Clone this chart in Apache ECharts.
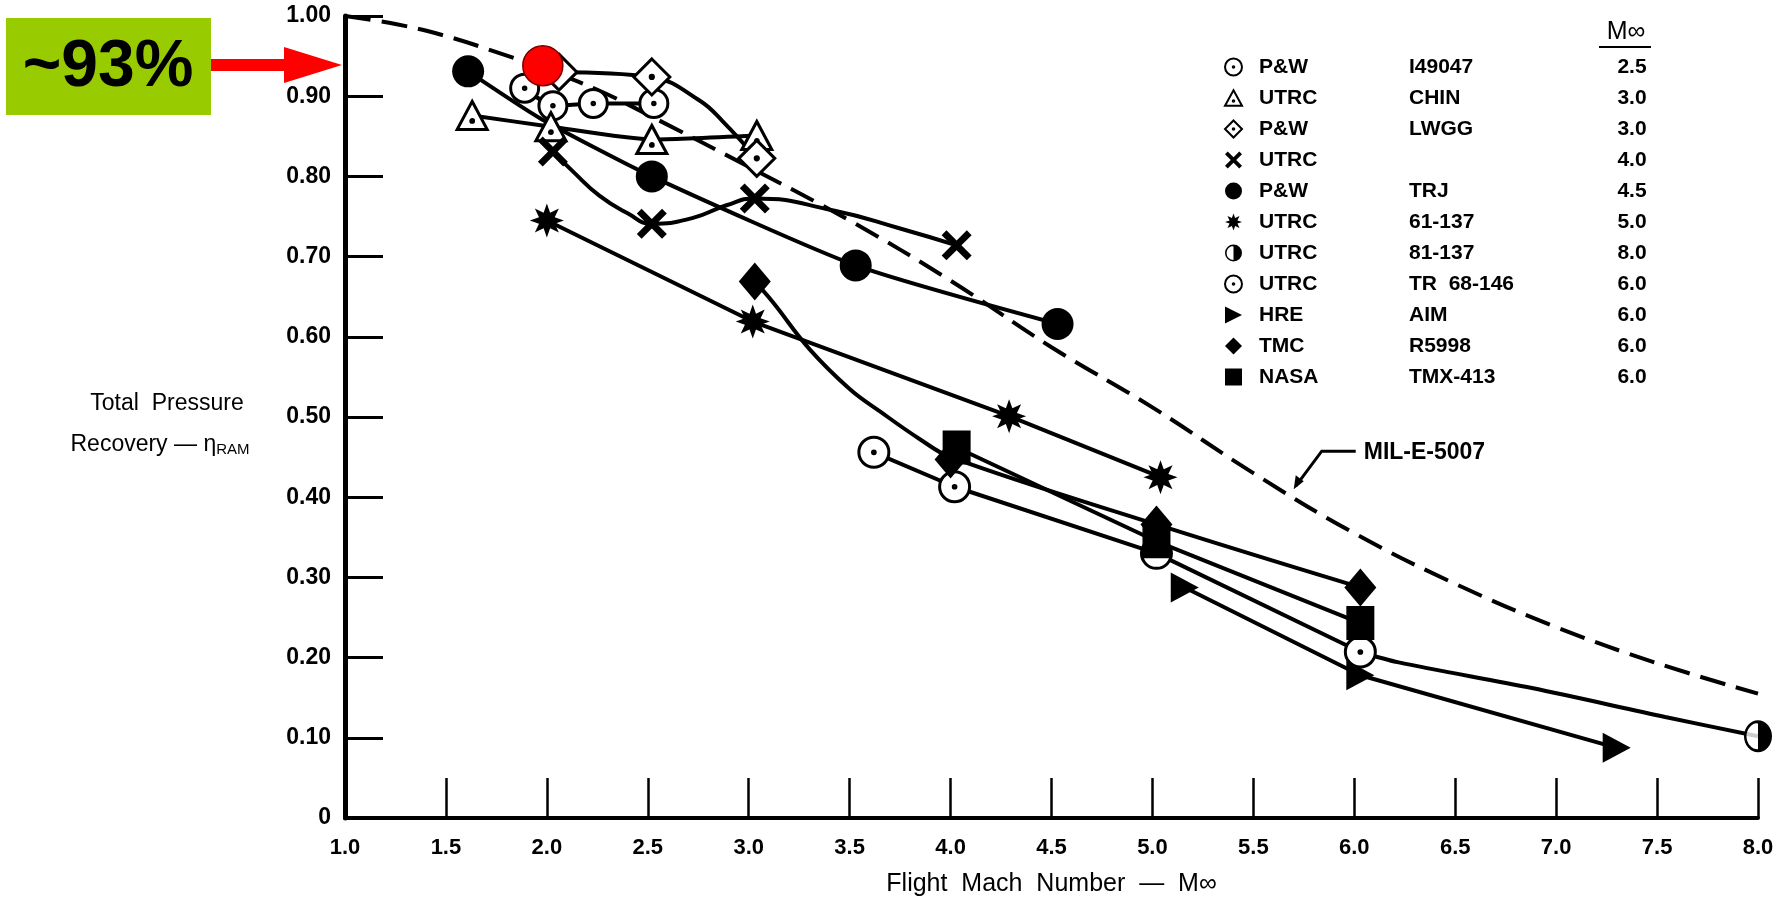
<!DOCTYPE html>
<html><head><meta charset="utf-8">
<script src="https://cdn.jsdelivr.net/npm/echarts@6/dist/echarts.min.js"></script>
<style>html,body{margin:0;padding:0;background:#fff}#c{width:1782px;height:905px}</style>
</head><body><div id="c"></div>
<script>
// ---------------- DATA (Mach number, total pressure recovery) ----------------
const milCurve = [[1.0,1.0],[1.25,0.99],[1.5,0.975],[1.75,0.955],[2.0,0.933],[2.25,0.908],[2.5,0.877],[3.0,0.812],[3.5,0.745],[4.0,0.67],[4.5,0.587],[5.0,0.512],[5.5,0.43],[6.0,0.355],[6.5,0.292],[7.0,0.238],[7.5,0.193],[8.0,0.155]];

const pwI49047 = [[1.89,0.91],[2.03,0.888],[2.23,0.891],[2.53,0.891]];
const utrcChin = [[1.63,0.876],[2.02,0.862],[2.52,0.846],[3.04,0.851]];
const pwLwgg = [[2.06,0.93],[2.52,0.924],[3.04,0.8225]];
const pwLwggCurve = [[2.06,0.93],[2.52,0.924],[2.76,0.894],[2.87,0.869],[3.04,0.8225]];
const utrcX = [[2.03,0.831],[2.52,0.741],[3.03,0.7725],[4.03,0.714]];
const utrcXCurve = [[2.03,0.831],[2.13,0.806],[2.26,0.776],[2.40,0.754],[2.52,0.741],[2.72,0.748],[2.89,0.764],[3.03,0.7725],[3.42,0.7575],[3.75,0.735],[4.03,0.714]];
const pwTrj = [[1.61,0.931],[2.52,0.80],[3.53,0.689],[4.53,0.616]];
const pwTrjCurve = [[1.61,0.931],[1.97,0.872],[2.52,0.80],[3.53,0.689],[4.53,0.616]];
const utrc61137 = [[2.0,0.745],[3.02,0.619],[4.29,0.501],[5.04,0.425]];
const utrc81137 = [[8.0,0.102]];
const utrc81137Curve = [[6.03,0.207],[6.22,0.194],[6.88,0.162],[7.54,0.126],[8.0,0.102]];
const utrcTr68146 = [[3.62,0.456],[4.02,0.413],[5.02,0.33],[6.03,0.207]];
const hreAim = [[5.16,0.2875],[6.03,0.178],[7.30,0.0875]];
const tmcR5998 = [[3.03,0.669],[4.0,0.447],[5.02,0.366],[6.03,0.2875]];
const tmcR5998Curve = [[3.03,0.669],[3.12,0.643],[3.30,0.585],[3.50,0.535],[3.65,0.507],[3.85,0.472],[4.0,0.45],[5.02,0.366],[6.03,0.2875]];
const nasaTmx413 = [[4.03,0.462],[5.02,0.345],[6.03,0.243]];
const highlightPoint = [[1.98,0.938]];

const legendCompany = ['P&W','UTRC','P&W','UTRC','P&W','UTRC','UTRC','UTRC','HRE','TMC','NASA'];
const legendCode = ['I49047','CHIN','LWGG','','TRJ','61-137','81-137','TR  68-146','AIM','R5998','TMX-413'];
const legendMach = ['2.5','3.0','3.0','4.0','4.5','5.0','8.0','6.0','6.0','6.0','6.0'];

const annotText = '~93%';
const annotValue = 0.939;
const milLabel = 'MIL-E-5007';
const milArrowTip = [5.70, 0.41];

// ---------------- STYLE ----------------
const FONT = "'Liberation Sans', Arial, Helvetica, sans-serif";
const NARROW = "'Liberation Sans Narrow', 'Liberation Sans', Arial, sans-serif";
function starPath(n, r1, r2){
  let s='';
  for(let i=0;i<2*n;i++){const a=Math.PI*i/n-Math.PI/2;const r=i%2?r2:r1;s+=(i?'L':'M')+(r*Math.cos(a)).toFixed(2)+' '+(r*Math.sin(a)).toFixed(2)+' ';}
  return 'path://'+s+'Z';
}
const SYM = {
  circleDot:'path://M0 -10 A10 10 0 1 1 0 10 A10 10 0 1 1 0 -10 Z M0 -0.9 A0.9 0.9 0 1 1 0 0.9 A0.9 0.9 0 1 1 0 -0.9 Z',
  triDot:'path://M0 -10 L10 8 L-10 8 Z M0 1.6 A0.9 0.9 0 1 1 0 3.4 A0.9 0.9 0 1 1 0 1.6 Z',
  diamondDot:'path://M0 -10 L10 0 L0 10 L-10 0 Z M0 -0.9 A0.9 0.9 0 1 1 0 0.9 A0.9 0.9 0 1 1 0 -0.9 Z',
  cross:'path://M1.6 0 L5 3.4 L8.4 0 L10 1.6 L6.6 5 L10 8.4 L8.4 10 L5 6.6 L1.6 10 L0 8.4 L3.4 5 L0 1.6 Z',
  star: starPath(8,10,5),
  half:'path://M0 -10 A10 10 0 0 1 0 10 Z M0 -10 A10 10 0 0 0 0 10 L0 8.2 A8.2 8.2 0 0 1 0 -8.2 Z',
  rightTri:'path://M0 0 L10 5 L0 10 Z'
};

const defs = [
  {key:'I49047', pts:pwI49047, curve:pwI49047, smooth:0.2, sym:SYM.circleDot, size:28, open:true},
  {key:'CHIN', pts:utrcChin, curve:utrcChin, smooth:0.2, sym:SYM.triDot, size:[30,28], open:true},
  {key:'LWGG', pts:pwLwgg, curve:pwLwggCurve, smooth:0.4, sym:SYM.diamondDot, size:36, open:true},
  {key:'UTRC4', pts:utrcX, curve:utrcXCurve, smooth:0.5, sym:SYM.cross, size:30},
  {key:'TRJ', pts:pwTrj, curve:pwTrjCurve, smooth:0.2, sym:'circle', size:32},
  {key:'61-137', pts:utrc61137, curve:utrc61137, smooth:false, sym:SYM.star, size:34},
  {key:'81-137', pts:utrc81137, curve:utrc81137Curve, smooth:0.3, sym:SYM.half, size:[28,32], under:true},
  {key:'TR68-146', pts:utrcTr68146, curve:utrcTr68146, smooth:false, sym:SYM.circleDot, size:30, open:true},
  {key:'AIM', pts:hreAim, curve:hreAim, smooth:false, sym:SYM.rightTri, size:[28,30]},
  {key:'R5998', pts:tmcR5998, curve:tmcR5998Curve, smooth:0.4, sym:'diamond', size:[32,38]},
  {key:'TMX-413', pts:nasaTmx413, curve:nasaTmx413, smooth:false, sym:'rect', size:[28,34]}
];

const series = [{
  name:'MIL-E-5007', type:'line', data:milCurve, smooth:0.4, symbol:'none', z:1,
  lineStyle:{color:'#000', width:4, type:[26,11]}, silent:true
}];
defs.forEach(d=>{
  series.push({name:d.key+'_line', type:'line', data:d.curve, smooth:d.smooth, symbol:'none', z:2,
    lineStyle:{color:'#000', width:4}, silent:true});
  if(d.under){
    series.push({name:d.key+'_under', type:'scatter', data:d.pts, symbol:'circle', symbolSize:26, z:3,
      itemStyle:{color:'#fff'}, silent:true});
  }
  series.push({name:d.key, type:'scatter', data:d.pts, symbol:d.sym, symbolSize:d.size, z:4,
    itemStyle: d.open ? {color:'#fff', borderColor:'#000', borderWidth:3, opacity:1} : {color:'#000', opacity:1}, silent:true});
});
series.push({name:'highlight', type:'scatter', data:highlightPoint, symbol:'circle', symbolSize:40, z:10,
  itemStyle:{color:'#ff0000', borderColor:'#7a0000', borderWidth:1.5, opacity:1}, silent:true});

const legendIcons = {I49047:SYM.circleDot, CHIN:SYM.triDot, LWGG:SYM.diamondDot, UTRC4:SYM.cross, TRJ:'circle',
  '61-137':SYM.star, '81-137':SYM.half, 'TR68-146':SYM.circleDot, AIM:SYM.rightTri, R5998:'diamond', 'TMX-413':'rect'};

const txt = (extra)=>Object.assign({color:'#000', fontFamily:FONT, fontSize:21, fontWeight:'bold', lineHeight:22}, extra||{});

const option = {
  animation:false,
  backgroundColor:'#fff',
  grid:{left:345, right:24, top:16, bottom:87, containLabel:false},
  xAxis:{type:'value', min:1, max:8, interval:0.5,
    axisLine:{show:true, lineStyle:{color:'#000', width:4}},
    axisTick:{show:true, inside:true, length:40, lineStyle:{color:'#000', width:2.5}},
    axisLabel:{formatter:v=>v.toFixed(1), color:'#000', fontSize:22, fontWeight:'bold', fontFamily:NARROW, margin:19, showMinLabel:true, showMaxLabel:true},
    splitLine:{show:false},
    name:'Flight  Mach  Number  —  M∞', nameLocation:'middle', nameGap:54,
    nameTextStyle:{color:'#000', fontSize:25, fontFamily:FONT}
  },
  yAxis:{type:'value', min:0, max:1, interval:0.1,
    axisLine:{show:true, lineStyle:{color:'#000', width:5}},
    axisTick:{show:true, inside:true, length:38, lineStyle:{color:'#000', width:3}},
    axisLabel:{formatter:v=> v===0 ? '0' : v.toFixed(2), color:'#000', fontSize:23, fontWeight:'bold', fontFamily:FONT, margin:14},
    splitLine:{show:false}
  },
  legend:{
    orient:'vertical', left:1219, top:51, itemWidth:17, itemHeight:17, itemGap:9, selectedMode:false,
    itemStyle:{borderWidth:2},
    data: defs.map(d=>({name:d.key, icon:legendIcons[d.key]})),
    formatter: name=>{
      const i = defs.findIndex(d=>d.key===name);
      return '{s|}{a|'+legendCompany[i]+'}{b|'+(legendCode[i]||' ')+'}{c|'+legendMach[i]+'}';
    },
    textStyle: txt({rich:{
      s:txt({width:12}),
      a:txt({width:150}),
      b:txt({width:193}),
      c:txt({width:60, align:'center'})
    }})
  },
  series: series
};

const chart = echarts.init(document.getElementById('c'), null, {renderer:'canvas'});
chart.setOption(option);

// ---------------- annotations positioned through the chart's own scales ----------------
const tip = chart.convertToPixel({gridIndex:0}, [1.0, annotValue]);
const tipX = tip[0]-3, tipY = tip[1];
const mTip = chart.convertToPixel({gridIndex:0}, milArrowTip);
const yTitleMid = chart.convertToPixel({gridIndex:0}, [1.0, 0.5]);
const machCol = 1219 + 17 + 5 + 12 + 150 + 193 + 30;

chart.setOption({graphic:[
  {type:'rect', shape:{x:6, y:tipY-47, width:205, height:97}, style:{fill:'#99cc00'}},
  {type:'text', style:{text:annotText, x:108, y:tipY+3, align:'center', verticalAlign:'middle', font:'bold 66px '+FONT, fill:'#000'}},
  {type:'rect', shape:{x:211, y:tipY-6, width:tipX-58-211+2, height:12}, style:{fill:'#ff0000'}},
  {type:'polygon', shape:{points:[[tipX-58,tipY-18],[tipX,tipY],[tipX-58,tipY+18]]}, style:{fill:'#ff0000'}},

  {type:'text', style:{text:'Total  Pressure', x:167, y:yTitleMid[1]-13, align:'center', verticalAlign:'middle', font:'23px '+FONT, fill:'#000'}},
  {type:'text', style:{text:'Recovery — η{s|RAM}', x:160, y:yTitleMid[1]+28, align:'center', verticalAlign:'middle', font:'23px '+FONT, fill:'#000',
    rich:{s:{fontSize:15, fontFamily:FONT, fill:'#000', padding:[10,0,0,0]}}}},

  {type:'text', style:{text:'M∞', x:machCol, y:32, align:'center', verticalAlign:'middle', font:'25px '+FONT, fill:'#000'}},
  {type:'line', shape:{x1:machCol-27, y1:47, x2:machCol+25, y2:47}, style:{stroke:'#000', lineWidth:2}},

  {type:'polyline', shape:{points:[[mTip[0]+62,mTip[1]-38],[mTip[0]+28,mTip[1]-38],[mTip[0]+2,mTip[1]-3]]}, style:{stroke:'#000', lineWidth:3, fill:null}},
  {type:'polygon', shape:{points:[[mTip[0],mTip[1]],[mTip[0]+2,mTip[1]-14],[mTip[0]+10,mTip[1]-8]]}, style:{fill:'#000'}},
  {type:'text', style:{text:milLabel, x:mTip[0]+70, y:mTip[1]-37, align:'left', verticalAlign:'middle', font:'bold 23px '+FONT, fill:'#000'}}
]});
</script>
</body></html>
